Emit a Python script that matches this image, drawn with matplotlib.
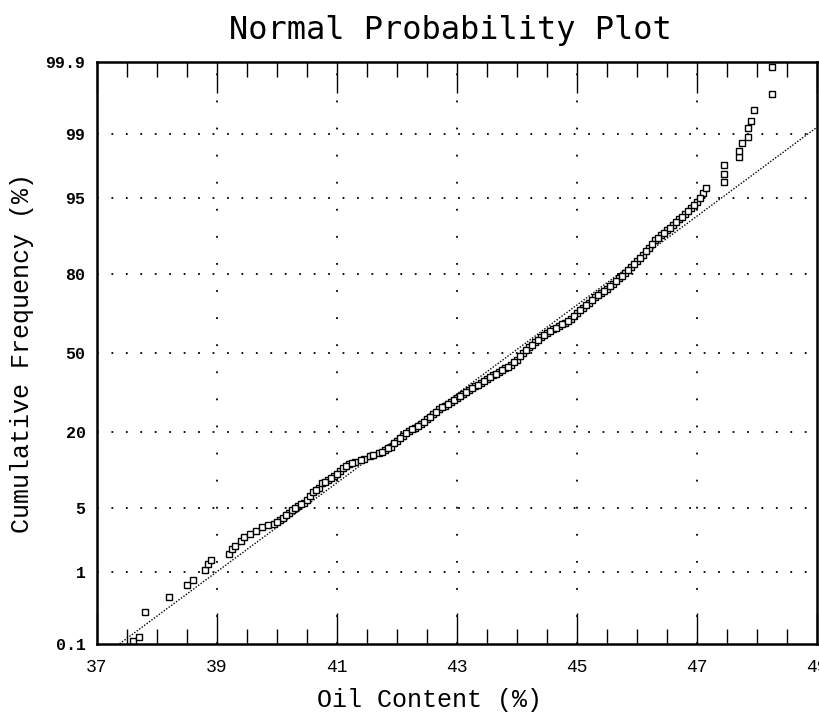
import numpy as np
import matplotlib
matplotlib.use("Agg")
import matplotlib.pyplot as plt
from statistics import NormalDist

# oil content (%) and cumulative frequency (%)
oil = [37.6, 37.7, 37.8, 38.2, 38.5, 38.6, 38.8, 38.85, 38.9, 39.2,
       39.25, 39.3, 39.4, 39.45, 39.55, 39.65, 39.75, 39.85, 39.95, 40.05,
       40.1, 40.2, 40.25, 40.35, 40.45, 40.5, 40.55, 40.6, 40.7, 40.75,
       40.85, 40.95, 41.05, 41.1, 41.2, 41.3, 41.45, 41.55, 41.7, 41.8,
       41.9, 42.0, 42.1, 42.2, 42.3, 42.4, 42.5, 42.6, 42.7, 42.8,
       42.9, 43.0, 43.1, 43.2, 43.3, 43.4, 43.5, 43.6, 43.7, 43.8,
       43.9, 44.0, 44.1, 44.2, 44.3, 44.4, 44.5, 44.6, 44.7, 44.8,
       44.9, 45.0, 45.1, 45.2, 45.3, 45.4, 45.5, 45.6, 45.7, 45.8,
       45.9, 46.0, 46.1, 46.2, 46.3, 46.4, 46.5, 46.6, 46.7, 46.8,
       46.9, 47.0, 47.1, 47.15, 47.45, 47.45, 47.45, 47.7, 47.7, 47.75,
       47.85, 47.85, 47.9, 47.95, 48.25, 48.25]
cumfreq = [0.11, 0.13, 0.30, 0.48, 0.68, 0.80, 1.05, 1.25, 1.40, 1.65,
           1.85, 2.0, 2.3, 2.55, 2.75, 2.95, 3.2, 3.35, 3.5, 3.8,
           4.0, 4.5, 4.8, 5.2, 5.6, 5.9, 6.4, 7.0, 7.6, 8.3,
           8.9, 9.6, 10.5, 11.1, 11.8, 12.4, 13.0, 13.6, 14.3, 15.1,
           16.0, 17.5, 19.0, 20.2, 21.3, 22.4, 24.0, 25.8, 27.4, 28.8,
           30.0, 31.5, 33.2, 34.8, 36.2, 37.5, 39.0, 40.6, 42.0, 43.5,
           45.0, 47.0, 50.0, 52.5, 54.5, 56.5, 58.3, 59.8, 61.2, 62.6,
           64.0, 66.5, 68.4, 70.2, 72.2, 73.8, 75.2, 76.8, 78.5, 80.2,
           81.8, 83.4, 85.0, 86.8, 88.4, 89.5, 90.3, 91.2, 92.2, 93.0,
           93.8, 94.5, 95.5, 96.0, 96.5, 97.1, 97.7, 98.1, 98.4, 98.7,
           98.9, 99.15, 99.3, 99.5, 99.7, 99.88]

# extra squares in the dense middle of the band
oil_mid = [40.0, 40.15, 40.3, 40.4, 40.65, 40.8, 40.9, 41.0, 41.15, 41.25,
           41.4, 41.6, 41.75, 41.85, 41.95, 42.05, 42.15, 42.25, 42.35, 42.45,
           42.55, 42.65, 42.75, 42.85, 42.95, 43.05, 43.15, 43.25, 43.35, 43.45,
           43.55, 43.65, 43.75, 43.85, 43.95, 44.05, 44.15, 44.25, 44.35, 44.45,
           44.55, 44.65, 44.75, 44.85, 44.95, 45.05, 45.15, 45.25, 45.35, 45.45,
           45.55, 45.65, 45.75, 45.85, 45.95, 46.05, 46.15, 46.25, 46.35, 46.45,
           46.55, 46.65, 46.75, 46.85, 46.95, 47.05]
cumfreq_mid = [3.65, 4.3, 5.0, 5.4, 7.3, 8.6, 9.2, 10.0, 11.4, 12.1,
               12.7, 13.9, 14.7, 15.6, 16.8, 18.2, 19.6, 20.8, 21.8, 23.2,
               24.9, 26.6, 28.1, 29.4, 30.8, 32.3, 34.0, 35.5, 36.8, 38.2,
               39.8, 41.3, 42.7, 44.2, 46.0, 48.5, 51.2, 53.5, 55.5, 57.4,
               59.0, 60.5, 61.9, 63.3, 65.2, 67.4, 69.3, 71.2, 73.0, 74.5,
               76.0, 77.6, 79.4, 81.0, 82.6, 84.2, 85.9, 87.6, 88.9, 89.9,
               90.8, 91.7, 92.6, 93.4, 94.2, 95.0]

# fitted normal line
fit_mean = 43.93
fit_sd = 2.12
line_x = [37.3, 49.0]

yticks = [0.1, 1, 5, 20, 50, 80, 95, 99, 99.9]
ylabels = ['0.1', '1', '5', '20', '50', '80', '95', '99', '99.9']
xticks = [37, 39, 41, 43, 45, 47, 49]

nd = NormalDist()
_ppf = np.vectorize(lambda p: nd.inv_cdf(min(max(p, 1e-7), 1 - 1e-7)),
                    otypes=[float])
_cdf = np.vectorize(nd.cdf, otypes=[float])

def fwd(p):
    return _ppf(np.asarray(p, dtype=float) / 100.0)

def inv(z):
    return _cdf(np.asarray(z, dtype=float)) * 100.0

mono = 'Liberation Mono'

fig = plt.figure(figsize=(8.19, 7.26), dpi=100)
ax = fig.add_axes([0.118, 0.113, 0.879, 0.802])
ax.set_yscale('function', functions=(fwd, inv))

line_p = [NormalDist(fit_mean, fit_sd).cdf(v) * 100 for v in line_x]
ax.plot(line_x, line_p, color='black', lw=1.0, ls=(0, (1, 1.2)))
ax.plot(oil, cumfreq, ls='none', marker='s', ms=5, mfc='white',
        mec='black', mew=1.0)
ax.plot(oil_mid, cumfreq_mid, ls='none', marker='s', ms=5, mfc='white',
        mec='black', mew=1.0)

ax.set_xlim(37, 49)
ax.set_ylim(0.1, 99.9)

ax.set_yticks(yticks)
ax.set_yticklabels(ylabels, fontfamily=mono, fontsize=12, fontweight='bold')
ax.yaxis.set_minor_locator(matplotlib.ticker.NullLocator())
ax.set_xticks(xticks)
ax.set_xticks(np.arange(37, 49.01, 0.5), minor=True)
ax.set_xticklabels([str(v) for v in xticks], fontfamily=mono, fontsize=13)

ax.tick_params(axis='x', which='major', direction='in', length=22, width=1,
               top=True, pad=11)
ax.tick_params(axis='x', which='minor', direction='in', length=11, width=1,
               top=True)
ax.tick_params(axis='y', which='both', length=0, pad=8)

# dotted grid, skipping the edges
for v in xticks[1:-1]:
    ax.axvline(v, color='black', lw=1.3, ls=(0, (1, 14)))
for v in yticks[1:-1]:
    ax.axhline(v, color='black', lw=1.3, ls=(0, (1, 7)))

for s in ax.spines.values():
    s.set_linewidth(1.8)

ax.set_ylabel('Cumulative Frequency (%)', fontfamily=mono, fontsize=18)
ax.yaxis.set_label_coords(-0.087, 0.5)
ax.set_xlabel('Oil Content (%)', fontfamily=mono, fontsize=18)
ax.xaxis.set_label_coords(0.4625, -0.076)

fig.text(0.55, 0.958, 'Normal Probability Plot', ha='center', va='center',
         fontfamily='DejaVu Sans Mono', fontsize=23)

fig.savefig('out.png', dpi=100)
